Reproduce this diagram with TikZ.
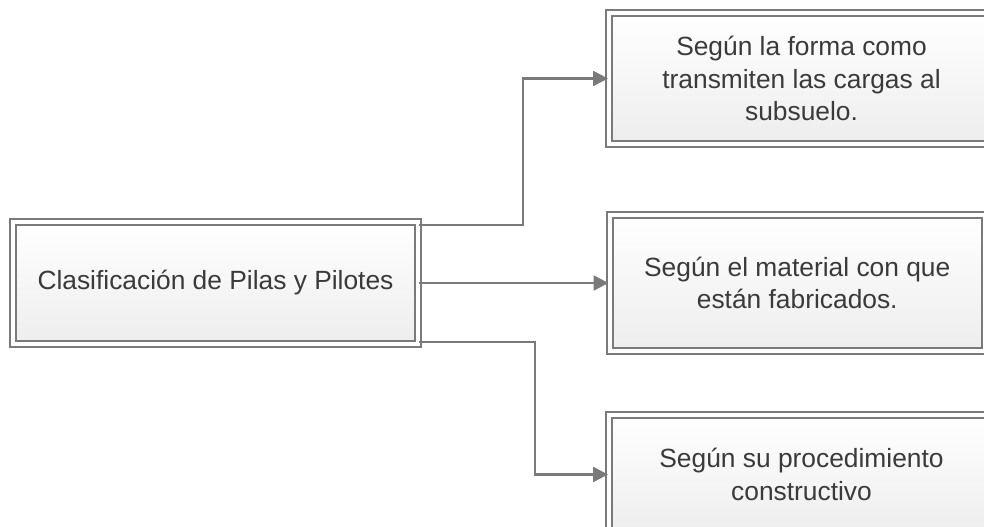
\documentclass[tikz,border=0pt]{standalone}
\usepackage{fontspec}
\setmainfont{Liberation Sans}
\usetikzlibrary{arrows.meta}
\definecolor{linea}{HTML}{7A7A7A}
\definecolor{texto}{HTML}{3A3A3A}
\begin{document}
\begin{tikzpicture}[x=0.02cm, y=-0.02cm,
  caja/.style={draw=linea, double=white, double distance=0.08cm, line width=0.04cm,
    top color=white, bottom color=gray!14, align=center, text=texto,
    font=\fontsize{15}{18.5}\selectfont, inner sep=0pt},
  flecha/.style={-{Triangle[length=0.3cm,width=0.3cm]}, draw=linea, line width=0.045cm}]
\clip (0,0) rectangle (984,527);
\node[caja, minimum width=8.1cm, minimum height=2.44cm] (clasif) at (215.5,283) {Clasificación de Pilas y Pilotes};
  \node[caja, minimum width=7.7cm, minimum height=2.62cm] (forma) at (801.5,78.5) {Según la forma como\\transmiten las cargas al\\subsuelo.};
  \node[caja, minimum width=7.51cm, minimum height=2.74cm] (material) at (797.25,283) {Según el material con que\\están fabricados.};
    \node[caja, minimum width=7.7cm, minimum height=2.4cm] (proc) at (801.5,474.5) {Según su procedimiento\\constructivo};
   \draw[flecha] ([yshift=-0.08cm]clasif.north east) -- ++(104,0) |- (forma.west);
   \draw[flecha] (clasif.east) -- (material.west);
   \draw[flecha] ([yshift=0.06cm]clasif.south east) -- ++(116,0) |- (proc.west);
\end{tikzpicture}
\end{document}
